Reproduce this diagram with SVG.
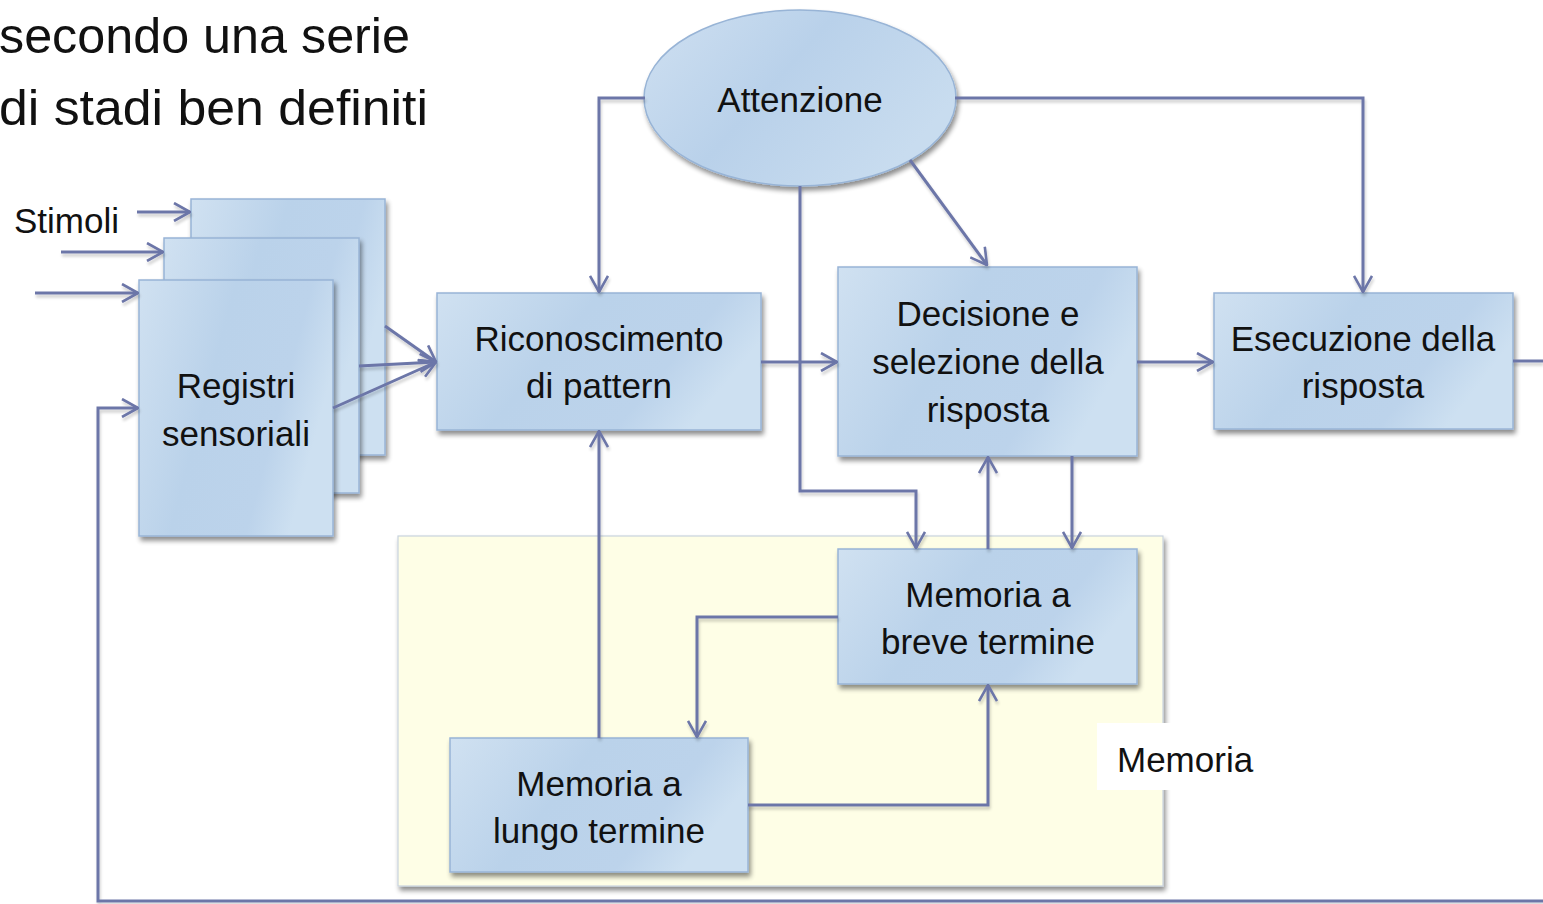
<svg xmlns="http://www.w3.org/2000/svg" width="1543" height="904" viewBox="0 0 1543 904">
  <defs>
    <linearGradient id="boxGrad" x1="0" y1="0" x2="1" y2="0.35">
      <stop offset="0" stop-color="#d0e1f1"/>
      <stop offset="0.45" stop-color="#bad2ea"/>
      <stop offset="0.8" stop-color="#bcd3eb"/>
      <stop offset="1" stop-color="#cde0f1"/>
    </linearGradient>
    <linearGradient id="ellGrad" x1="0" y1="0" x2="1" y2="0.5">
      <stop offset="0" stop-color="#cfe0f1"/>
      <stop offset="0.5" stop-color="#b9d1ea"/>
      <stop offset="1" stop-color="#c8dcef"/>
    </linearGradient>
    <filter id="shadow" x="-10%" y="-10%" width="125%" height="125%">
      <feGaussianBlur in="SourceAlpha" stdDeviation="2.5"/>
      <feOffset dx="2" dy="4" result="b"/>
      <feComponentTransfer><feFuncA type="linear" slope="0.45"/></feComponentTransfer>
      <feMerge><feMergeNode/><feMergeNode in="SourceGraphic"/></feMerge>
    </filter>
    <filter id="lshadow" x="-5%" y="-5%" width="110%" height="110%">
      <feGaussianBlur in="SourceAlpha" stdDeviation="1.5"/>
      <feOffset dx="1" dy="3" result="b"/>
      <feComponentTransfer><feFuncA type="linear" slope="0.2"/></feComponentTransfer>
      <feMerge><feMergeNode/><feMergeNode in="SourceGraphic"/></feMerge>
    </filter>
    <marker id="arr" viewBox="0 0 18 20" refX="17" refY="10" markerWidth="18" markerHeight="20" markerUnits="userSpaceOnUse" orient="auto">
      <path d="M1,1 L17,10 L1,19" fill="none" stroke="#6c76a8" stroke-width="2.6" stroke-linejoin="miter"/>
    </marker>
  </defs>
  <style>
    .box { fill: url(#boxGrad); stroke: #98b4d6; stroke-width: 1.5; filter: url(#shadow); }
    .ell { fill: url(#ellGrad); stroke: #98b4d6; stroke-width: 1.5; filter: url(#shadow); }
    .lbl { font-family: "Liberation Sans", Arial, sans-serif; font-size: 35px; fill: #111; text-anchor: middle; }
    .plain { font-family: "Liberation Sans", Arial, sans-serif; fill: #111; }
    .ln { fill: none; stroke: #6c76a8; stroke-width: 3; }
    .arw { fill: none; stroke: #6c76a8; stroke-width: 3; marker-end: url(#arr); }
  </style>

  <rect width="1543" height="904" fill="#ffffff"/>

  <g id="title">
    <text class="plain" x="-1" y="53" font-size="50" textLength="411" lengthAdjust="spacingAndGlyphs">secondo una serie</text>
    <text class="plain" x="-1" y="125" font-size="50" textLength="429" lengthAdjust="spacingAndGlyphs">di stadi ben definiti</text>
  </g>

  <g id="memoria-region">
    <rect x="398" y="536" width="765" height="350" fill="#fefee6" stroke="#c9d2de" stroke-width="1.2" filter="url(#shadow)"/>
    <rect x="1097" y="723" width="165" height="67" fill="#ffffff"/>
    <text class="plain" x="1117" y="772" font-size="35">Memoria</text>
  </g>

  <g id="stimoli">
    <text class="plain" x="14" y="233" font-size="35">Stimoli</text>
  </g>

  <g id="registri">
    <rect class="box" x="191" y="199" width="194" height="256"/>
    <rect class="box" x="164" y="238" width="195" height="255"/>
    <rect class="box" x="139" y="280" width="194" height="256"/>
    <text class="lbl" x="236" y="398">Registri</text>
    <text class="lbl" x="236" y="446">sensoriali</text>
  </g>

  <g id="attenzione">
    <ellipse class="ell" cx="800" cy="98" rx="156" ry="88"/>
    <text class="lbl" x="800" y="112">Attenzione</text>
  </g>

  <g id="riconoscimento">
    <rect class="box" x="437" y="293" width="324" height="137"/>
    <text class="lbl" x="599" y="351">Riconoscimento</text>
    <text class="lbl" x="599" y="398">di pattern</text>
  </g>

  <g id="decisione">
    <rect class="box" x="838" y="267" width="299" height="189"/>
    <text class="lbl" x="988" y="326">Decisione e</text>
    <text class="lbl" x="988" y="374">selezione della</text>
    <text class="lbl" x="988" y="422">risposta</text>
  </g>

  <g id="esecuzione">
    <rect class="box" x="1214" y="293" width="299" height="136"/>
    <text class="lbl" x="1363" y="351">Esecuzione della</text>
    <text class="lbl" x="1363" y="398">risposta</text>
  </g>

  <g id="memoria-breve">
    <rect class="box" x="838" y="549" width="299" height="135"/>
    <text class="lbl" x="988" y="607">Memoria a</text>
    <text class="lbl" x="988" y="654">breve termine</text>
  </g>

  <g id="memoria-lungo">
    <rect class="box" x="450" y="738" width="298" height="134"/>
    <text class="lbl" x="599" y="796">Memoria a</text>
    <text class="lbl" x="599" y="843">lungo termine</text>
  </g>

  <g id="connectors" filter="url(#lshadow)">
    <!-- stimoli inputs -->
    <line class="arw" x1="137" y1="212" x2="190" y2="212"/>
    <line class="arw" x1="61" y1="252" x2="163" y2="252"/>
    <line class="arw" x1="35" y1="293" x2="138" y2="293"/>
    <!-- feedback from output -->
    <path class="arw" d="M1543,901 L98,901 L98,408 L138,408"/>
    <!-- registri to riconoscimento -->
    <line class="arw" x1="385" y1="326" x2="436" y2="362"/>
    <line class="arw" x1="359" y1="366" x2="436" y2="362"/>
    <line class="arw" x1="333" y1="408" x2="436" y2="362"/>
    <!-- attention lines -->
    <path class="arw" d="M645,98 L599,98 L599,292"/>
    <path class="arw" d="M955,98 L1363,98 L1363,292"/>
    <line class="arw" x1="910" y1="160" x2="987" y2="265"/>
    <path class="arw" d="M800,186 L800,491 L916,491 L916,548"/>
    <!-- main flow -->
    <line class="arw" x1="761" y1="362" x2="837" y2="362"/>
    <line class="arw" x1="1137" y1="362" x2="1213" y2="362"/>
    <line class="ln" x1="1513" y1="361" x2="1543" y2="361"/>
    <!-- memory links -->
    <line class="arw" x1="988" y1="549" x2="988" y2="457"/>
    <line class="arw" x1="1072" y1="456" x2="1072" y2="548"/>
    <line class="arw" x1="599" y1="738" x2="599" y2="431"/>
    <path class="arw" d="M838,617 L697,617 L697,737"/>
    <path class="arw" d="M748,805 L988,805 L988,685"/>
  </g>
</svg>
